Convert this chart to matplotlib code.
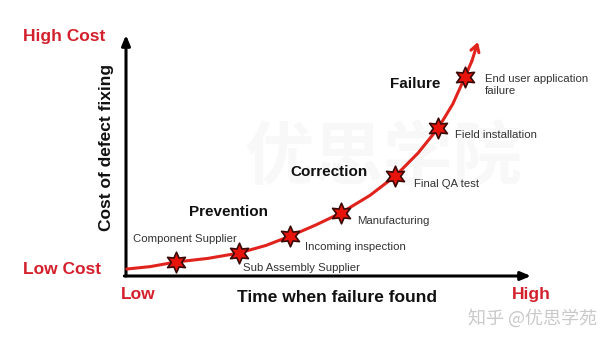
import matplotlib
matplotlib.use('Agg')
import matplotlib.pyplot as plt

plt.rcParams['font.family'] = ['Liberation Sans', 'Noto Sans CJK SC', 'DejaVu Sans']

# ---- data: cost of fixing a defect vs. when it is found (0-100 scale) ----
stages = ['Component Supplier', 'Sub Assembly Supplier', 'Incoming inspection',
          'Manufacturing', 'Final QA test', 'Field installation',
          'End user application\nfailure']
stage_time = [12.3, 27.8, 40.6, 53.0, 66.5, 77.1, 83.7]
stage_cost = [5.8, 9.5, 16.6, 26.1, 41.5, 61.4, 82.6]

curve_time = [0.2, 6.0, 12.3, 20.2, 27.8, 34.6, 40.6, 46.9, 53.0,
              60.2, 66.5, 72.1, 77.1, 80.7, 83.7, 85.4, 86.9]
curve_cost = [2.9, 3.9, 5.8, 7.3, 9.5, 12.7, 16.6, 21.2, 26.1,
              33.4, 41.5, 51.0, 61.4, 71.4, 82.6, 89.2, 97.1]

phases = ['Prevention', 'Correction', 'Failure']
phase_time = [25.4, 50.2, 71.4]
phase_cost = [26.6, 43.2, 79.7]

# label offsets from each star, in pixels
label_dx = [9, 4, 15, 16, 19, 17, 20]
label_dy = [23, -15, -11, -8, -8, -7, -8]
label_ha = ['center', 'left', 'left', 'left', 'left', 'left', 'left']

RED = '#d3202c'
LINE_RED = '#e0231c'

fig = plt.figure(figsize=(6.16, 3.44), dpi=100)
fig.patch.set_facecolor('white')

ax = fig.add_axes([126 / 616, 1 - 276 / 344, 405 / 616, 241 / 344])
ax.set_xlim(0, 100)
ax.set_ylim(0, 100)
ax.axis('off')
ax.patch.set_alpha(0)

# faint background watermark, under everything else
ax.text(0.623, 0.535, '优思学院', transform=fig.transFigure, fontsize=50,
        fontweight='bold', color='#f8f8f8', ha='center', va='center',
        family=['Noto Sans CJK SC'], zorder=0)

# axes drawn as arrows
ax.annotate('', xy=(0, 1.0), xytext=(0, 0), xycoords='axes fraction',
            arrowprops=dict(arrowstyle='-|>,head_length=0.6,head_width=0.25',
                            color='black', lw=2.2, shrinkA=0, shrinkB=0))
ax.annotate('', xy=(1.0, 0), xytext=(-0.004, 0), xycoords='axes fraction',
            arrowprops=dict(arrowstyle='-|>,head_length=0.6,head_width=0.25',
                            color='black', lw=2.2, shrinkA=0, shrinkB=0))

# cost curve
ax.plot(curve_time[:-1], curve_cost[:-1], color=LINE_RED, lw=2.2,
        solid_capstyle='round', solid_joinstyle='round', clip_on=False, zorder=3)
ax.annotate('', xy=(curve_time[-1], curve_cost[-1]),
            xytext=(curve_time[-2], curve_cost[-2]),
            arrowprops=dict(arrowstyle='->,head_length=0.5,head_width=0.3',
                            color=LINE_RED, lw=2.2, shrinkA=0, shrinkB=0),
            zorder=3)

ax.scatter(stage_time, stage_cost, marker=(6, 1, 0), s=220, color='#e8140c',
           edgecolors='#3a0a06', linewidths=1.2, zorder=4, clip_on=False)

for name, t, c, dx, dy, ha in zip(stages, stage_time, stage_cost,
                                  label_dx, label_dy, label_ha):
    ax.annotate(name, (t, c), textcoords='offset pixels', xytext=(dx, dy),
                ha=ha, va='center', fontsize=8.2, color='#333333',
                linespacing=1.15, zorder=5)

for name, t, c in zip(phases, phase_time, phase_cost):
    ax.text(t, c, name, ha='center', va='center', fontsize=11,
            fontweight='bold', color='#111111', zorder=5)

# axis end labels
ax.text(-0.153, 0.992, 'High Cost', transform=ax.transAxes, ha='center',
        va='center', fontsize=12.5, fontweight='bold', color=RED)
ax.text(-0.158, 0.029, 'Low Cost', transform=ax.transAxes, ha='center',
        va='center', fontsize=12.5, fontweight='bold', color=RED)
ax.text(0.030, -0.075, 'Low', transform=ax.transAxes, ha='center',
        va='center', fontsize=12.5, fontweight='bold', color=RED)
ax.text(1.0, -0.075, 'High', transform=ax.transAxes, ha='center',
        va='center', fontsize=12.5, fontweight='bold', color=RED)

ax.text(0.520, -0.091, 'Time when failure found', transform=ax.transAxes,
        ha='center', va='center', fontsize=12.5, fontweight='bold', color='#111111')
ax.text(-0.047, 0.535, 'Cost of defect fixing', transform=ax.transAxes,
        ha='center', va='center', rotation=90, fontsize=12.5,
        fontweight='bold', color='#111111')

# source watermark
fig.text(533 / 616, 1 - 318 / 344, '知乎 @优思学苑', ha='center', va='center',
         fontsize=13, color='#c9c9c9', family=['Noto Sans CJK SC', 'DejaVu Sans'])

fig.savefig('out.png', dpi=100)
